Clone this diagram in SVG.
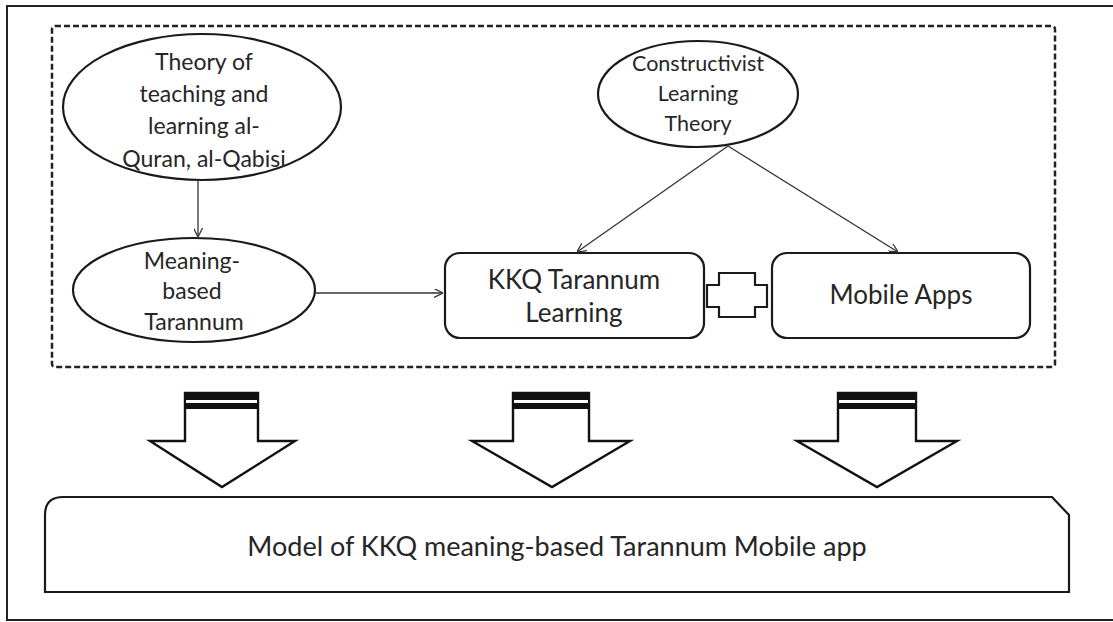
<svg xmlns="http://www.w3.org/2000/svg" width="1113" height="622" viewBox="0 0 1113 622">
<defs>
<style>
.t{font-family:"Lato","Liberation Sans",sans-serif;fill:#262626;text-anchor:middle}
.e{font-size:23px}
.c{font-size:21.5px}
.b{font-size:26px}
.shape{fill:#fff;stroke:#1a1a1a;stroke-width:2.2}
.conn{stroke:#333;stroke-width:1.3;fill:none;marker-end:url(#ah)}
.blk{fill:#fff;stroke:#111;stroke-width:2.4;stroke-linejoin:miter}
</style>
<marker id="ah" viewBox="0 0 10 10" refX="10" refY="5" markerWidth="9" markerHeight="9" markerUnits="userSpaceOnUse" orient="auto">
<path d="M0,0 L10,5 L0,10" fill="none" stroke="#333" stroke-width="1.4"/>
</marker>
</defs>
<rect x="7" y="6" width="1110" height="614" fill="#fff" stroke="#222" stroke-width="2"/>
<rect id="frame" x="52" y="26" width="1003" height="341" rx="3" fill="none" stroke="#222" stroke-width="2.5" stroke-dasharray="6 3"/>

<g id="theory">
<ellipse class="shape" cx="202" cy="107" rx="139" ry="73"/>
<text class="t e" x="204" y="70">Theory of</text>
<text class="t e" x="204" y="102">teaching and</text>
<text class="t e" x="204" y="134">learning al-</text>
<text class="t e" x="204" y="167">Quran, al-Qabisi</text>
</g>

<g id="meaning">
<ellipse class="shape" cx="194" cy="290" rx="121" ry="52"/>
<text class="t e" x="192" y="269">Meaning-</text>
<text class="t e" x="192" y="299">based</text>
<text class="t e" x="194" y="330">Tarannum</text>
</g>

<g id="constructivist">
<ellipse class="shape" cx="698" cy="94" rx="100" ry="53"/>
<text class="t c" x="698" y="71">Constructivist</text>
<text class="t c" x="698" y="101">Learning</text>
<text class="t c" x="698" y="131">Theory</text>
</g>

<g id="kkq">
<rect class="shape" x="445" y="253" width="259" height="85" rx="15"/>
<text class="t b" x="574" y="289">KKQ Tarannum</text>
<text class="t b" x="574" y="322">Learning</text>
</g>

<g id="mobile">
<rect class="shape" x="772" y="253" width="258" height="85" rx="15"/>
<text class="t b" x="901" y="304">Mobile Apps</text>
</g>

<g id="link">
<polygon class="shape" points="707,285 719,285 719,273 755,273 755,285 767,285 767,307 755,307 755,317 719,317 719,307 707,307"/>
</g>

<g id="connectors">
<line class="conn" x1="198" y1="180" x2="198" y2="237"/>
<line class="conn" x1="315" y1="293" x2="443" y2="293"/>
<line class="conn" x1="728" y1="146" x2="577" y2="252"/>
<line class="conn" x1="728" y1="146" x2="898" y2="252"/>
</g>

<g id="arrow1">
<polygon class="blk" points="185,393 258,393 258,441 295,441 222,487 150,441 185,441"/>
<rect x="185" y="393" width="73" height="16" fill="#111"/>
<rect x="186" y="400" width="71" height="3" fill="#fff"/>
</g>
<g id="arrow2">
<polygon class="blk" points="513,393 589,393 589,441 630,441 552,487 472,441 513,441"/>
<rect x="513" y="393" width="76" height="16" fill="#111"/>
<rect x="514" y="400" width="74" height="3" fill="#fff"/>
</g>
<g id="arrow3">
<polygon class="blk" points="838,393 916,393 916,441 957,441 877,487 797,441 838,441"/>
<rect x="838" y="393" width="78" height="16" fill="#111"/>
<rect x="839" y="400" width="76" height="3" fill="#fff"/>
</g>

<g id="model">
<path class="shape" d="M45,592 L45,515 Q45,497 63,497 L1052,497 L1069,515 L1069,592 Z"/>
<text class="t" style="font-size:27px" x="557" y="556">Model of KKQ meaning-based Tarannum Mobile app</text>
</g>
</svg>
